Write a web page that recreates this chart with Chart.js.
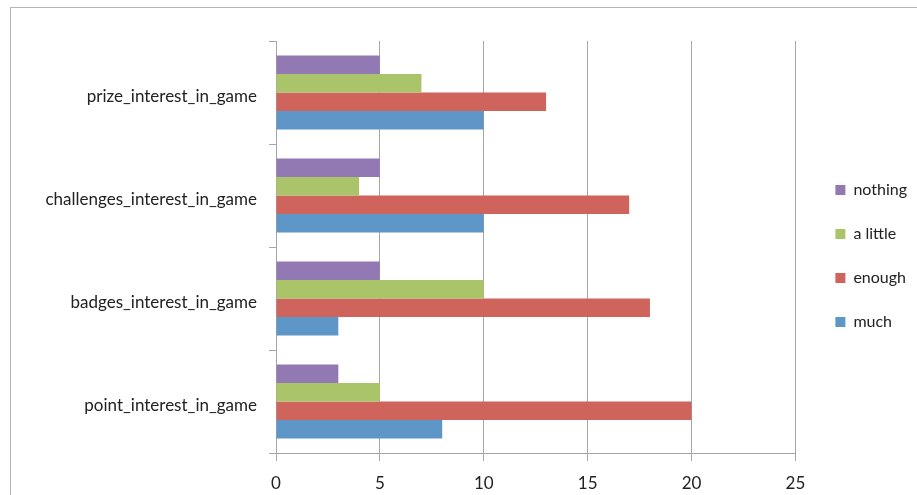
<!DOCTYPE html>
<html>
<head>
<meta charset="utf-8">
<script src="https://cdn.jsdelivr.net/npm/chart.js@4"></script>
<style>
  html, body { margin: 0; padding: 0; background: #ffffff; }
  #wrap { position: relative; width: 917px; height: 495px; overflow: hidden; }
  #frame { position: absolute; left: 10px; top: 7px; width: 1000px; height: 600px;
           border-top: 1px solid #b4b4b4; border-left: 1px solid #b4b4b4; }
  #c { position: absolute; left: 0; top: 0; }
</style>
</head>
<body>
<div id="wrap">
  <div id="frame"></div>
  <canvas id="c" width="917" height="495"></canvas>
</div>
<script>
const categories = ["prize_interest_in_game", "challenges_interest_in_game", "badges_interest_in_game", "point_interest_in_game"];
const nothing = [5, 5, 5, 3];
const aLittle = [7, 4, 10, 5];
const enough = [13, 17, 18, 20];
const much = [10, 10, 3, 8];
const xTicks = [0, 5, 10, 15, 20, 25];

const FONT = "Lato";

const legendShift = {
  id: 'legendShift',
  afterLayout(chart) {
    const lg = chart.legend;
    if (!lg) return;
    lg.left += 12; lg.right += 12;
    lg.top -= 12; lg.bottom -= 12;
  }
};

new Chart(document.getElementById('c'), {
  type: 'bar',
  data: {
    labels: categories,
    datasets: [
      { label: 'nothing', data: nothing, backgroundColor: '#9379B3' },
      { label: 'a little', data: aLittle, backgroundColor: '#AAC46A' },
      { label: 'enough', data: enough, backgroundColor: '#CE645C' },
      { label: 'much', data: much, backgroundColor: '#5F96C8' }
    ]
  },
  plugins: [legendShift],
  options: {
    indexAxis: 'y',
    responsive: false,
    animation: false,
    devicePixelRatio: 1,
    datasets: { bar: { categoryPercentage: 0.72, barPercentage: 1.0, borderWidth: 0 } },
    layout: { padding: { top: 41, right: 12, bottom: 0, left: 0 } },
    plugins: {
      legend: {
        position: 'right',
        labels: {
          font: { family: FONT, size: 16 },
          color: '#222',
          boxWidth: 10, boxHeight: 10,
          padding: 28
        }
      },
      tooltip: { enabled: false }
    },
    scales: {
      x: {
        min: 0, max: 25,
        afterBuildTicks: (s) => { s.ticks = xTicks.map(v => ({ value: v })); },
        ticks: { font: { family: FONT, size: 17 }, color: '#222', padding: 12 },
        grid: { color: '#a6a6a6', lineWidth: 1, tickLength: 8, drawTicks: true },
        border: { color: '#a6a6a6', width: 1 },
        afterFit: (s) => { s.height = 42; }
      },
      y: {
        ticks: { font: { family: FONT, size: 17 }, color: '#222', padding: 12, labelOffset: 4 },
        grid: { drawOnChartArea: false, drawTicks: true, tickLength: 7, color: '#a6a6a6' },
        border: { color: '#a6a6a6', width: 1 },
        afterFit: (s) => { s.width = 276; }
      }
    }
  }
});
</script>
</body>
</html>
